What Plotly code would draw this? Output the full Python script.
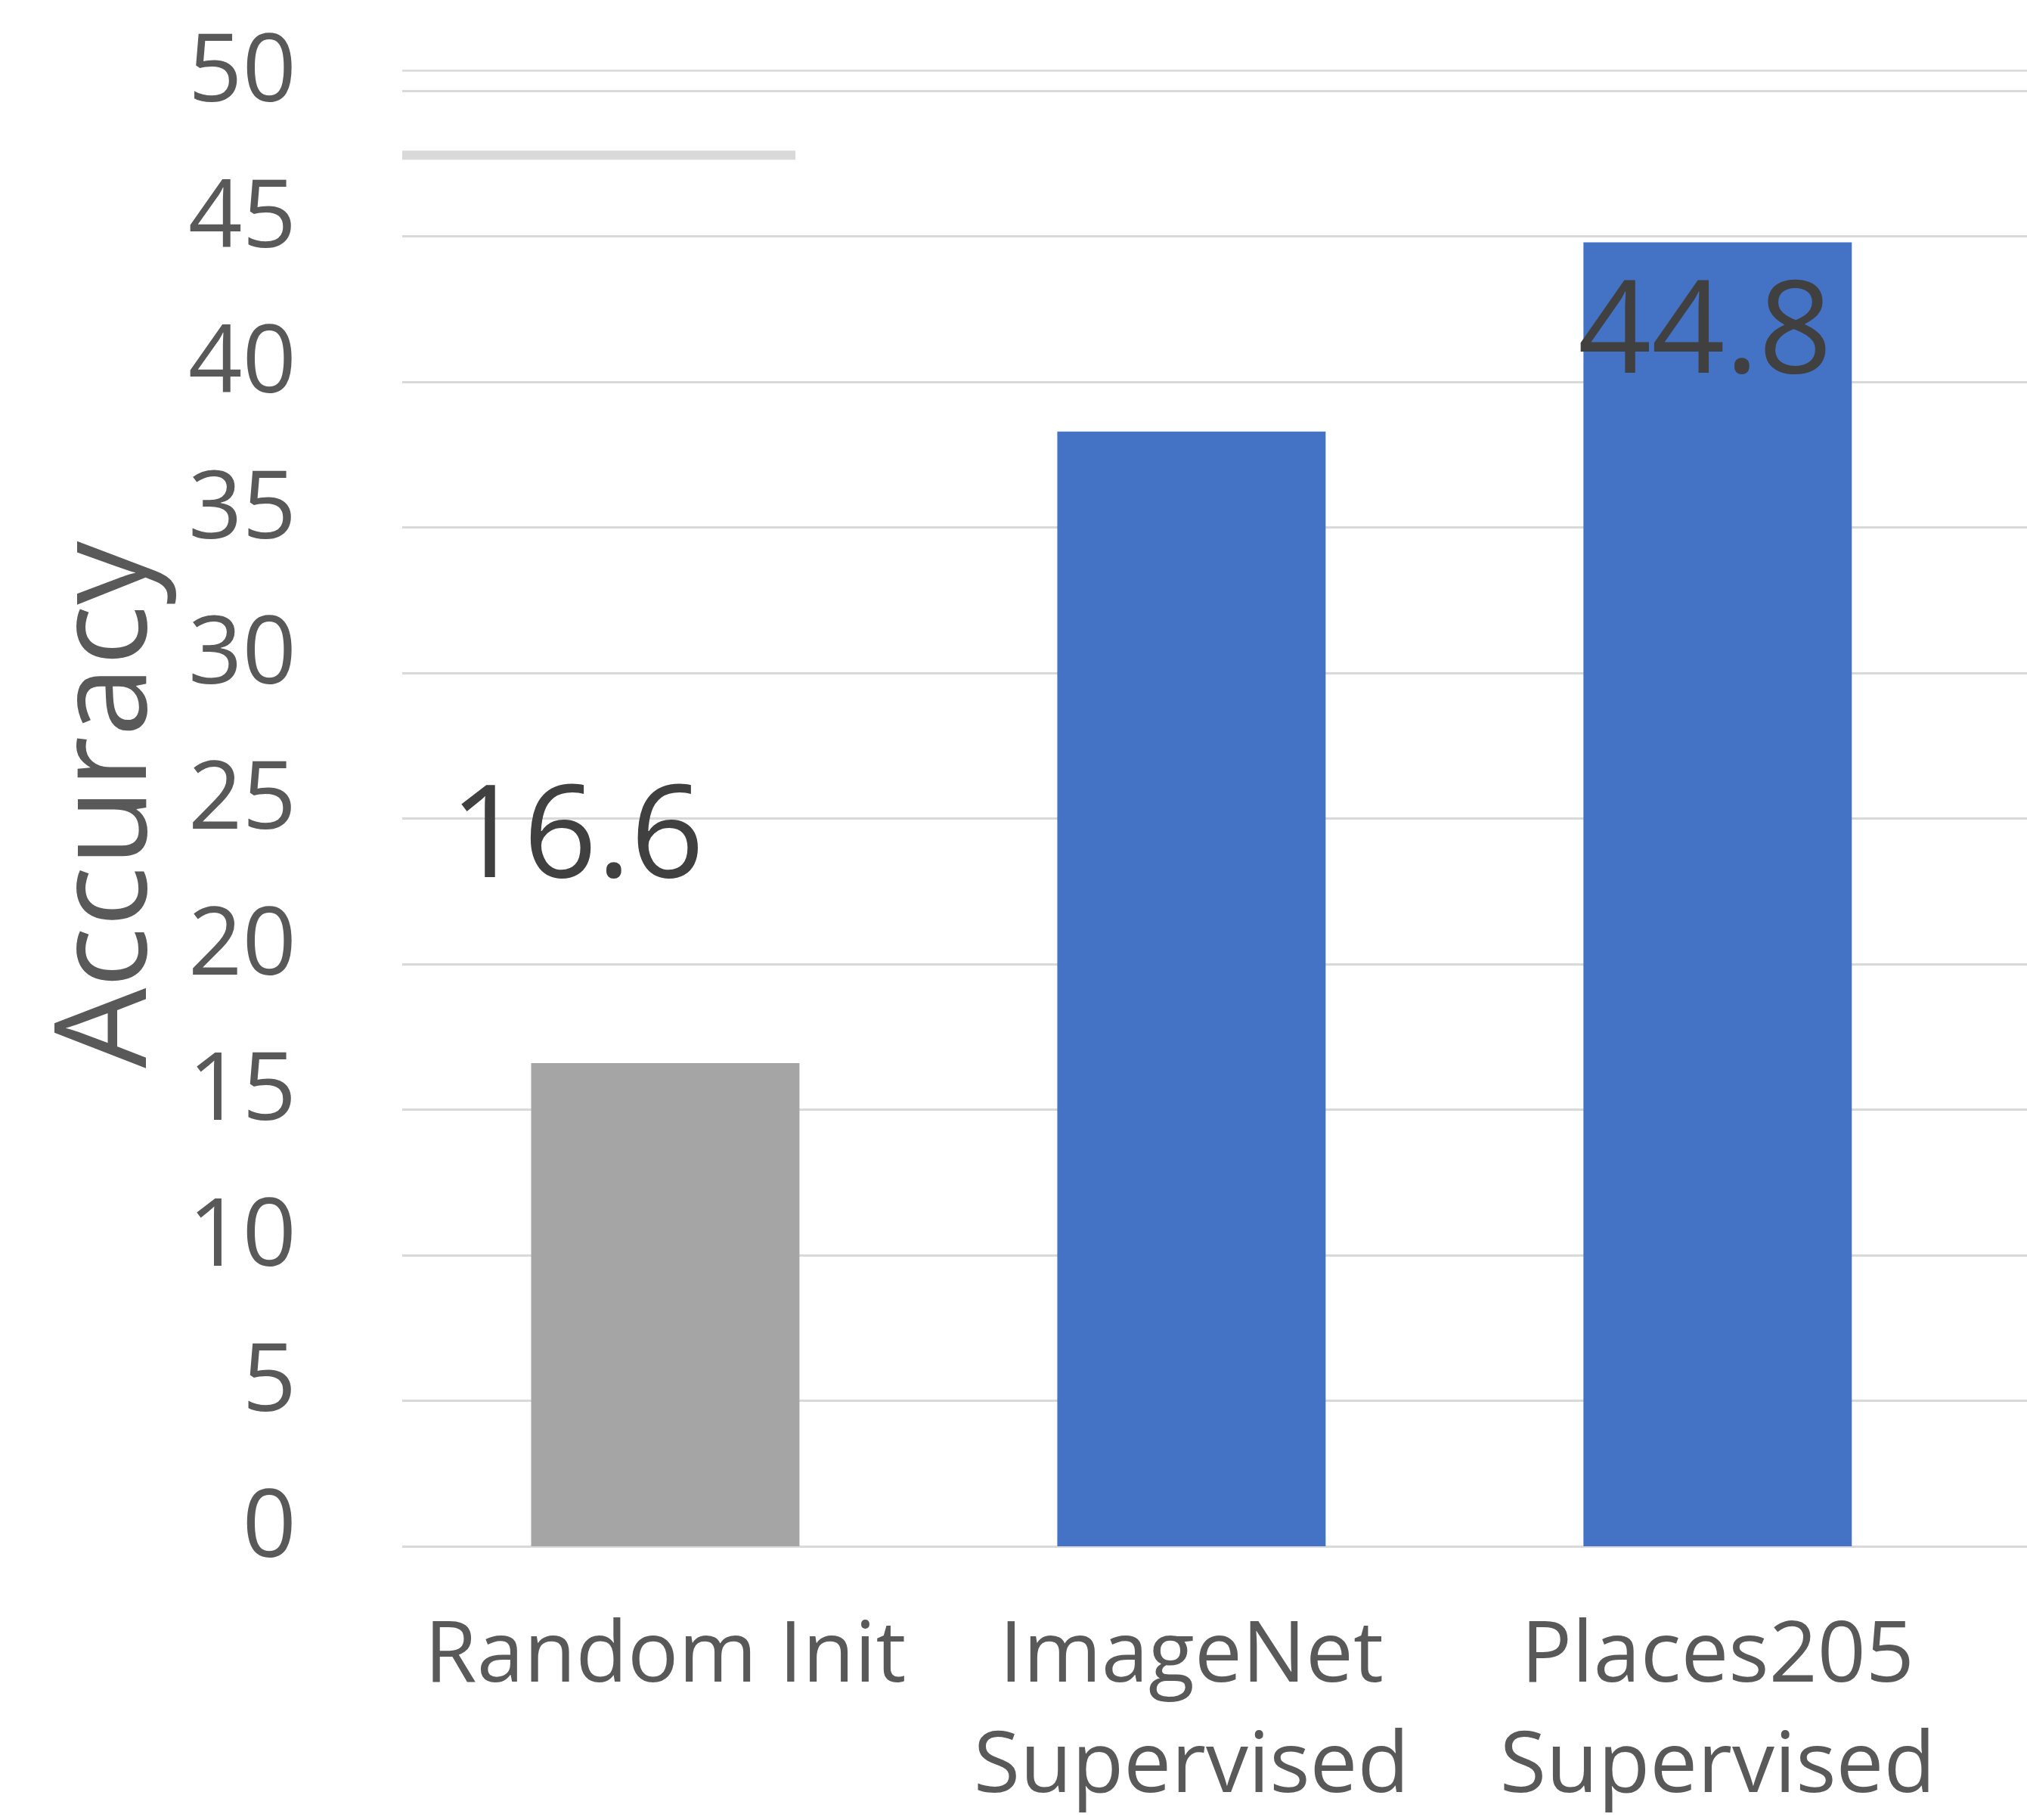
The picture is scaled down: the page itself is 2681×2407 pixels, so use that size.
import plotly.graph_objects as go

# Accuracy of each initialisation scheme
categories = ["Random Init", "ImageNet<br>Supervised", "Places205<br>Supervised"]
accuracy = [16.6, 38.3, 44.8]
bar_colors = ["#A5A5A5", "#4472C4", "#4472C4"]
value_labels = ["16.6", "", "44.8"]
y_ticks = [0, 5, 10, 15, 20, 25, 30, 35, 40, 45, 50]
y_title = "Accuracy"

FONT = "Open Sans, Liberation Sans, sans-serif"
TEXT_GREY = "#595959"
LABEL_DARK = "#404040"
GRID = "#D9D9D9"

fig = go.Figure(
    go.Bar(
        x=list(range(len(categories))),
        y=accuracy,
        marker=dict(color=bar_colors, line=dict(width=0)),
        width=0.51,
        hoverinfo="skip",
    )
)

# value labels: the small bar's label floats above-left, the tall one sits at the bar top
fig.add_annotation(
    x=0, y=accuracy[0], text=value_labels[0], showarrow=False,
    xshift=-117, yshift=312, yanchor="middle",
    font=dict(family=FONT, size=170, color=LABEL_DARK),
)
fig.add_annotation(
    x=2, y=accuracy[2], text=value_labels[2], showarrow=False,
    xshift=-17, yshift=12, yanchor="top",
    font=dict(family=FONT, size=170, color=LABEL_DARK),
)

# vertical axis title
fig.add_annotation(
    xref="paper", yref="paper", x=-0.188, y=0.481, text=y_title, showarrow=False,
    textangle=-90, xanchor="center", yanchor="middle",
    font=dict(family=FONT, size=168, color=TEXT_GREY),
)

# thin rule just above the top gridline
fig.add_shape(type="line", xref="paper", yref="y", x0=0, x1=1, y0=50.7, y1=50.7,
              line=dict(color=GRID, width=2.5))
# short light-grey bar at upper left
fig.add_shape(type="line", xref="paper", yref="y", x0=0, x1=0.242, y0=47.8, y1=47.8,
              line=dict(color=GRID, width=12))

fig.update_layout(
    width=2681,
    height=2407,
    margin=dict(l=532, r=0, t=2, b=362),
    paper_bgcolor="white",
    plot_bgcolor="white",
    showlegend=False,
    font=dict(family=FONT, color=TEXT_GREY),
    xaxis=dict(
        range=[-0.5, 2.588],
        tickmode="array",
        tickvals=list(range(len(categories))),
        ticktext=categories,
        tickfont=dict(family=FONT, size=112, color=TEXT_GREY),
        showgrid=False,
        zeroline=False,
        showline=False,
        ticks="",
        ticklabelstandoff=66,
    ),
    yaxis=dict(
        range=[0, 53],
        tickmode="array",
        tickvals=y_ticks,
        ticktext=[str(v) for v in y_ticks],
        tickfont=dict(family=FONT, size=125, color=TEXT_GREY),
        showgrid=True,
        gridcolor=GRID,
        gridwidth=2.5,
        zeroline=True,
        zerolinecolor=GRID,
        zerolinewidth=2.5,
        showline=False,
        ticks="",
        ticklabelstandoff=139,
        ticklabelshift=-30,
        ticklabeloverflow="allow",
    ),
)

fig.write_html("out.html")
